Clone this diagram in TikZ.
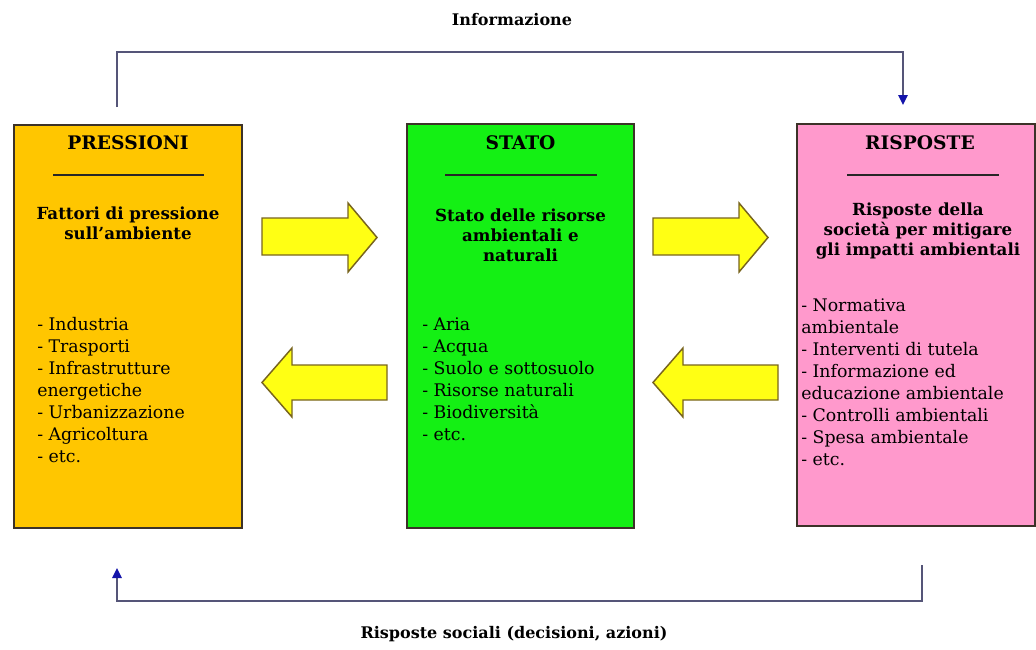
\documentclass[tikz,border=0pt]{standalone}
\usepackage{fontspec}
\setmainfont{DejaVu Serif}
\usepackage{tikz}
\usetikzlibrary{arrows.meta,positioning}
\definecolor{arancio}{RGB}{255,198,0}
\definecolor{verde}{RGB}{20,240,20}
\definecolor{rosa}{RGB}{255,153,204}
\definecolor{giallo}{RGB}{255,255,20}
\definecolor{bordofreccia}{RGB}{120,100,30}
\definecolor{bordo}{RGB}{60,50,40}
\definecolor{linea}{RGB}{85,85,120}
\definecolor{puntablu}{RGB}{20,20,170}
\tikzset{
  riquadro/.style={draw=bordo, line width=1.5pt, inner sep=0pt},
  titolo/.style={font=\bfseries\fontsize{12}{15}\selectfont, align=center, inner sep=0pt},
  intestazione/.style={titolo, font=\bfseries\fontsize{14}{16}\selectfont},
  sottotitolo/.style={titolo, font=\bfseries\fontsize{12.5}{15}\selectfont},
  elenco/.style={font=\fontsize{13}{16.5}\selectfont, align=left, anchor=north west, inner sep=0pt},
  sottolinea/.style={draw=black!85, line width=1pt},
  freccia/.style={draw=bordofreccia, fill=giallo, line width=1.1pt, line join=miter},
  conn/.style={draw=linea, line width=1.3pt,
    -{Triangle[length=7.5pt,width=7pt,color=puntablu]}}
}

\begin{document}
\begin{tikzpicture}[x=0.75pt, y=-0.75pt]
  \useasboundingbox[fill=white] (0,0) rectangle (1036,650);

  % the three boxes
  \node[riquadro, fill=arancio, minimum width=171pt, minimum height=302.25pt] (press) at (128,326.5) {};
  \node[riquadro, fill=verde, minimum width=170.25pt, minimum height=303pt] (stato) at (520.5,326) {};
  \node[riquadro, fill=rosa, minimum width=178.5pt, minimum height=301.5pt] (risp) at (916,325) {};

  % PRESSIONI
  \node[intestazione] (presstit) at (128,143) {PRESSIONI};
  \draw[sottolinea] (53,175) -- (204,175);
  \node[sottotitolo] (presssub) at (128,223) {Fattori di pressione\\sull'ambiente};
  \node[elenco] (presslist) at (37,317) {- Industria\\- Trasporti\\- Infrastrutture\\energetiche\\- Urbanizzazione\\- Agricoltura\\- etc.};

  % STATO
  \node[intestazione] (statotit) at (520.5,143) {STATO};
  \draw[sottolinea] (445,175) -- (597,175);
  \node[sottotitolo] (statosub) at (520.5,235) {Stato delle risorse\\ambientali e\\naturali};
  \node[elenco] (statolist) at (422,317) {- Aria\\- Acqua\\- Suolo e sottosuolo\\- Risorse naturali\\- Biodiversità\\- etc.};

  % RISPOSTE
  \node[intestazione] (risptit) at (920,143) {RISPOSTE};
  \draw[sottolinea] (847,175) -- (999,175);
  \node[sottotitolo] (rispsub) at (918,231) {Risposte della\\società per mitigare\\gli impatti ambientali};
  \node[elenco] (risplist) at (801,298) {- Normativa\\ambientale\\- Interventi di tutela\\- Informazione ed\\educazione ambientale\\- Controlli ambientali\\- Spesa ambientale\\- etc.};

  % yellow block arrows
  \foreach \dx in {0,391} {
    \draw[freccia, xshift=\dx*0.75pt] (262,218) -- (348,218) -- (348,203) -- (377,237.5)
      -- (348,272) -- (348,255) -- (262,255) -- cycle;
    \draw[freccia, xshift=\dx*0.75pt] (387,365) -- (292,365) -- (292,348) -- (262,382.5)
      -- (292,417) -- (292,400) -- (387,400) -- cycle;
  }

  % feedback loops
  \node[titolo] (info) at (512,20) {Informazione};
  \coordinate (infoA) at (117,107);
  \coordinate (infoB) at (903,105);
  \coordinate (infotop) at (512,52);
  \draw[conn] (infoA) |- (infotop) -| (infoB);

  \node[titolo] (sociali) at (514,634) {Risposte sociali (decisioni, azioni)};
  \coordinate (rispB) at (922,565);
  \coordinate (pressB) at (117,568);
  \coordinate (sociaback) at (520,601);
  \draw[conn] (rispB) |- (sociaback) -| (pressB);
\end{tikzpicture}
\end{document}
